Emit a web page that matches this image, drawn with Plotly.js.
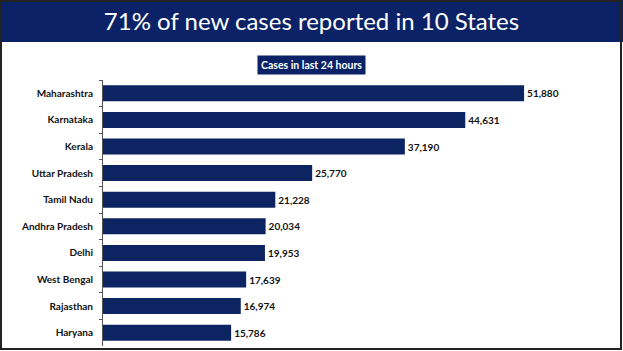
<!DOCTYPE html>
<html>
<head>
<meta charset="utf-8">
<script src="https://cdn.plot.ly/plotly-3.0.1.min.js"></script>
<style>html,body{margin:0;padding:0;background:#fff;}#chart{width:623px;height:351px;}</style>
</head>
<body>
<div id="chart"></div>
<script>
const states = ["Maharashtra","Karnataka","Kerala","Uttar Pradesh","Tamil Nadu","Andhra Pradesh","Delhi","West Bengal","Rajasthan","Haryana"];
const cases = [51880,44631,37190,25770,21228,20034,19953,17639,16974,15786];
const chartTitle = "71% of new cases reported in 10 States";
const subTitle = "Cases in last 24 hours";

const W = 623, H = 351;
const L = 103, R = 33, T = 80, B = 5;
const pw = W - L - R, ph = H - T - B;
const px = x => (x - L) / pw;
const py = y => (H - B - y) / ph;
const navy = "#0b2366";

Plotly.newPlot("chart", [{
  type: "bar",
  orientation: "h",
  y: states,
  x: cases,
  width: 0.6,
  marker: {color: "#0c2462"},
  text: cases.map(v => v.toLocaleString("en-US")),
  textposition: "outside",
  textfont: {family: "Lato, sans-serif", size: 10, color: "#111", weight: "bold"},
  cliponaxis: false,
  hoverinfo: "none"
}], {
  width: W, height: H,
  margin: {l: L, r: R, t: T, b: B, pad: 0},
  paper_bgcolor: "#fff",
  plot_bgcolor: "#fff",
  showlegend: false,
  title: {
    text: chartTitle,
    font: {family: "Lato, sans-serif", size: 24, color: "#fff"},
    x: 0.5, xanchor: "center", xref: "container",
    y: 1 - 22/H, yanchor: "middle", yref: "container"
  },
  xaxis: {range: [0, 60000], visible: false, fixedrange: true},
  yaxis: {
    autorange: "reversed",
    showline: true, linecolor: "#555", linewidth: 1,
    ticks: "outside", tickson: "boundaries", ticklen: 3, tickcolor: "#555",
    ticklabelstandoff: 7,
    tickfont: {family: "Lato, sans-serif", size: 10, color: "#111", weight: "bold"},
    showgrid: false, zeroline: false, fixedrange: true
  },
  shapes: [
    {type: "rect", xref: "paper", yref: "paper", x0: px(0), x1: px(W), y0: py(42), y1: py(0),
     fillcolor: navy, line: {width: 0}, layer: "below"},
    {type: "rect", xref: "paper", yref: "paper", x0: px(1), x1: px(621), y0: py(349), y1: py(1),
     fillcolor: "rgba(0,0,0,0)", line: {color: "#222", width: 2}}
  ],
  annotations: [{
    text: subTitle, xref: "paper", yref: "paper", x: px(311), y: py(65),
    xanchor: "center", yanchor: "middle", showarrow: false,
    font: {family: "Lato, sans-serif", size: 10.5, color: "#fff", weight: "bold"},
    bgcolor: navy, borderpad: 3
  }]
}, {displayModeBar: false, staticPlot: true});
</script>
</body>
</html>
